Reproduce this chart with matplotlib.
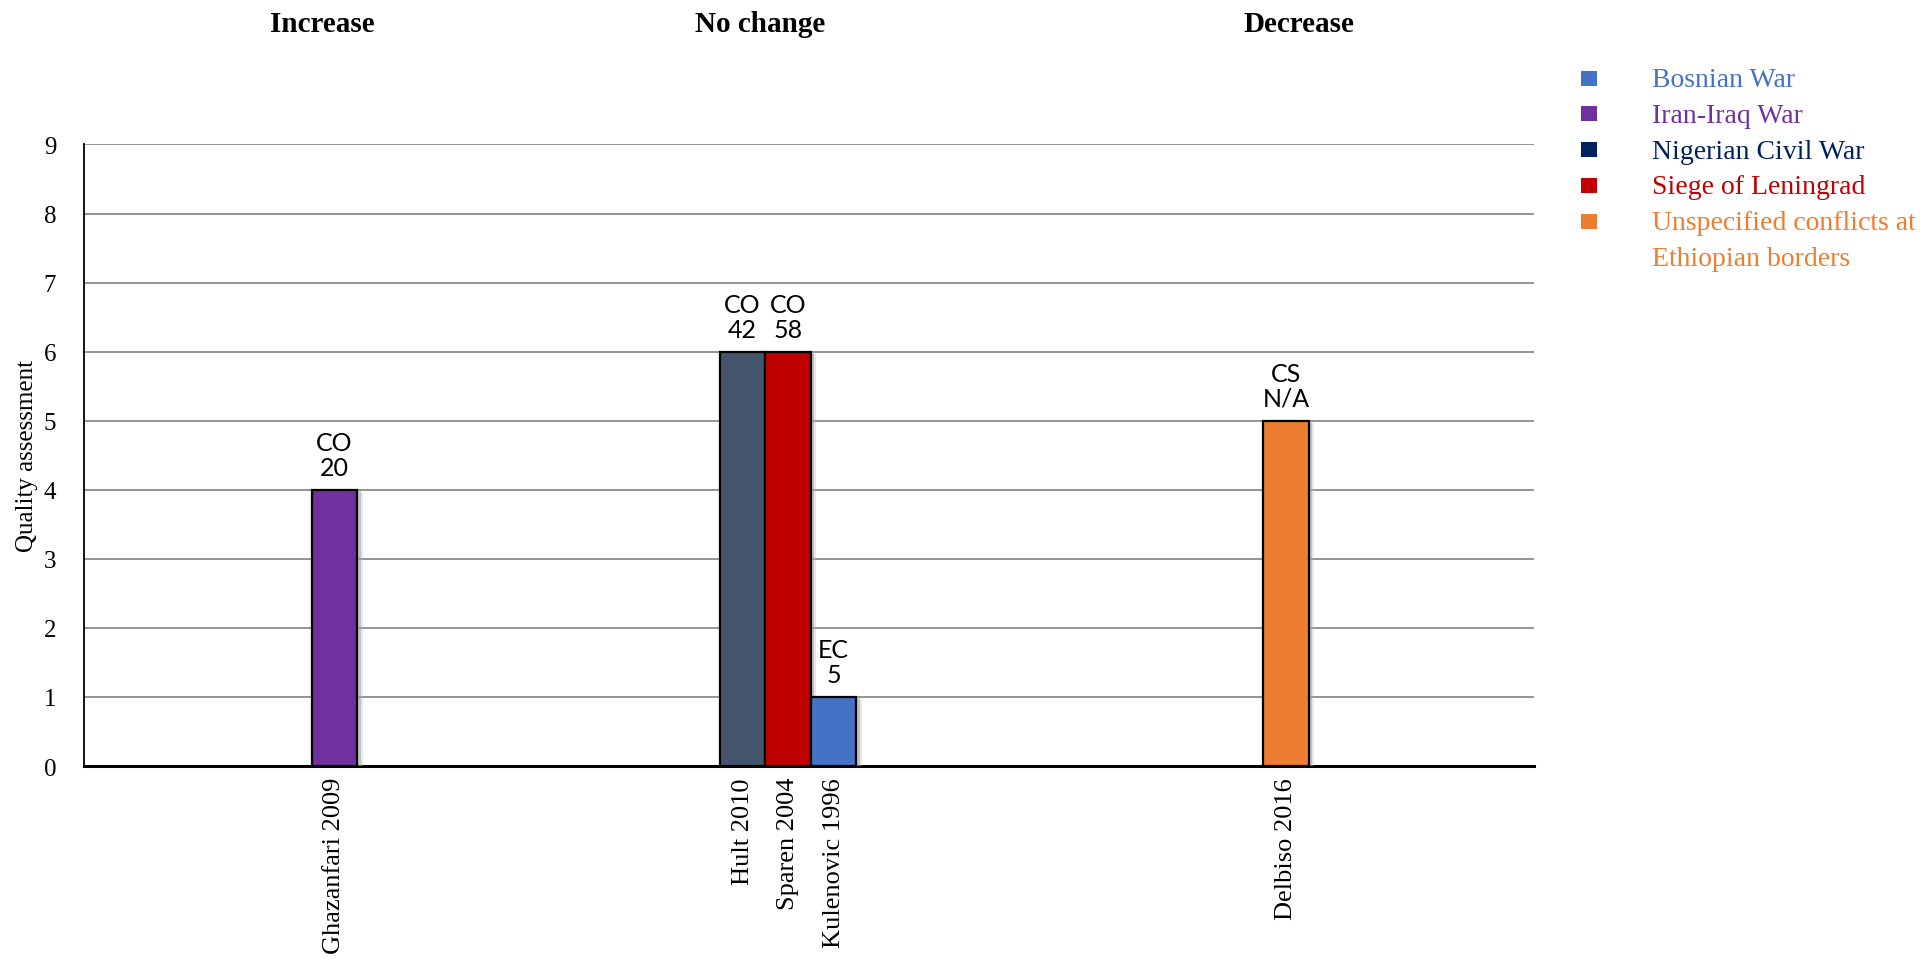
import numpy as np, matplotlib
matplotlib.use("Agg")
import matplotlib.pyplot as plt
import matplotlib.patheffects as pe
from matplotlib.patches import Rectangle
from matplotlib.transforms import blended_transform_factory

SERIF = "Liberation Serif"
SANS = "Lato"

# data
studies = ["Ghazanfari 2009", "Hult 2010", "Sparen 2004", "Kulenovic 1996", "Delbiso 2016"]
scores = [4, 6, 6, 1, 5]
designs = ["CO", "CO", "CO", "EC", "CS"]
samples = ["20", "42", "58", "5", "N/A"]
bar_colors = ["#7030A0", "#44546A", "#C00000", "#4472C4", "#ED7D31"]
groups = ["Increase", "No change", "Decrease"]
conflicts = ["Bosnian War", "Iran-Iraq War", "Nigerian Civil War", "Siege of Leningrad",
             "Unspecified conflicts at\nEthiopian borders"]
conflict_colors = ["#4472C4", "#7030A0", "#002060", "#C00000", "#ED7D31"]

# layout (x in pixel-like units across the plot area)
bar_x = [250.5, 658.5, 704.0, 749.5, 1202.0]
bar_w = 45.5
group_x = [238, 676, 1215]

fig = plt.figure(figsize=(19.26, 9.62), dpi=100)
ax = fig.add_axes([0.0436, 0.2027, 0.7529, 0.6461])

shadow = [pe.SimplePatchShadow(offset=(4, -2), shadow_rgbFace="#bbbbbb", alpha=0.35),
          pe.SimplePatchShadow(offset=(2.5, -1), shadow_rgbFace="#999999", alpha=0.45),
          pe.Normal()]
bars = ax.bar(bar_x, scores, width=bar_w, color=bar_colors, edgecolor="black", lw=1.6, zorder=3,
              path_effects=shadow)
for b, d, s in zip(bars, designs, samples):
    ax.annotate(f"{d}\n{s}", (b.get_x() + b.get_width() / 2, b.get_height()),
                xytext=(0, 8), textcoords="offset points", ha="center", va="bottom",
                fontsize=18, family=SANS, linespacing=1.1, zorder=4)

ax.set_xlim(0, 1450)
ax.set_ylim(0, 9)
ax.set_yticks(range(10))
ax.set_yticklabels([str(i) for i in range(10)], family=SERIF, fontsize=18)
ax.set_xticks(bar_x)
ax.set_xticklabels(studies, rotation=90, family=SERIF, fontsize=19, va="top")
ax.tick_params(length=0, pad=8)
ax.tick_params(axis="y", pad=20)
ax.grid(axis="y", color="#767676", lw=1.1, zorder=0)
ax.set_axisbelow(True)
for s in ["top", "right"]:
    ax.spines[s].set_visible(False)
ax.spines["left"].set_color("black"); ax.spines["left"].set_lw(1.3)
ax.spines["bottom"].set_color("black"); ax.spines["bottom"].set_lw(2.2)
ax.set_ylabel("Quality assessment", family=SERIF, fontsize=18, labelpad=4)

# group titles along the top of the figure
tr = blended_transform_factory(ax.transData, fig.transFigure)
for gx, g in zip(group_x, groups):
    ax.text(gx, 1 - 24.5 / 962, g, transform=tr, ha="center", va="center",
            family=SERIF, fontsize=21, fontweight="bold")

# legend drawn by hand (square aligned with the first line of each label)
row_y = 79
for name, c in zip(conflicts, conflict_colors):
    fy = 1 - row_y / 962
    fig.patches.append(Rectangle((1581 / 1926, fy - 7.5 / 962), 16 / 1926, 15 / 962,
                                 transform=fig.transFigure, facecolor=c, edgecolor="none"))
    fig.text(1652 / 1926, fy + 11 / 962, name, color=c, family=SERIF, fontsize=20,
             ha="left", va="top", linespacing=1.55)
    row_y += 35.8 * (name.count("\n") + 1)

fig.savefig("out.png", dpi=100)
